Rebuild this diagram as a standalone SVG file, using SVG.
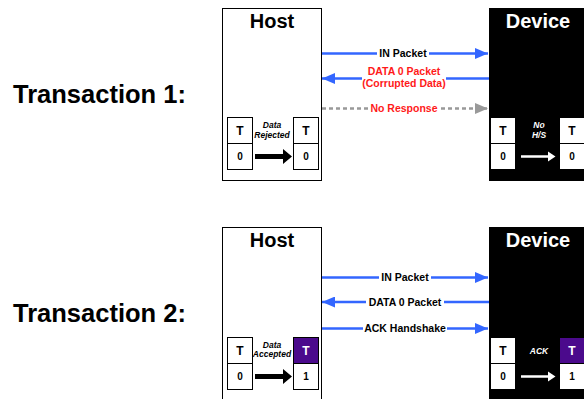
<svg xmlns="http://www.w3.org/2000/svg" width="584" height="399" viewBox="0 0 584 399">
<style>
text{font-family:"Liberation Sans",Arial,sans-serif;font-weight:bold}
.title{font-size:20px;text-anchor:middle}
.trans{font-size:25.5px}
.lbl{font-size:10.5px;text-anchor:middle}
.red{fill:#ff1a1a}
.tl{font-size:12px;text-anchor:middle}
.zl{font-size:10px;text-anchor:middle}
.it{font-size:8.5px;font-style:italic;text-anchor:middle}
.box{fill:#fff;stroke:#000;stroke-width:1}
.pbox{fill:#4b0a8c;stroke:#000;stroke-width:1}
.blue{stroke:#3366ff;stroke-width:2.5;fill:none}
.gray{stroke:#999;stroke-width:2.5;fill:none;stroke-dasharray:4 3}
.bg{fill:#fff}
</style>
<defs>
<marker id="ab" markerUnits="userSpaceOnUse" markerWidth="13" markerHeight="11" refX="13" refY="5.5" orient="auto"><path d="M0,0 L13,5.5 L0,11 z" fill="#3366ff"/></marker>
<marker id="ag" markerUnits="userSpaceOnUse" markerWidth="13" markerHeight="11" refX="13" refY="5.5" orient="auto"><path d="M0,0 L13,5.5 L0,11 z" fill="#999"/></marker>
</defs>

<text class="trans" x="13" y="103">Transaction 1:</text>
<text class="trans" x="13" y="322">Transaction 2:</text>

<!-- Transaction 1 -->
<g id="host1">
<rect x="222.5" y="8.5" width="99" height="172" fill="#fff" stroke="#000"/>
<text class="title" x="272" y="28">Host</text>
<rect class="box" x="227.5" y="117.5" width="25" height="26"/>
<rect class="box" x="227.5" y="143.5" width="25" height="26"/>
<text class="tl" x="240" y="135">T</text>
<text class="zl" x="240" y="160">0</text>
<rect class="box" x="293.5" y="117.5" width="25" height="26"/>
<rect class="box" x="293.5" y="143.5" width="25" height="26"/>
<text class="tl" x="306" y="135">T</text>
<text class="zl" x="306" y="160">0</text>
<text class="it" x="272" y="128">Data</text>
<text class="it" x="272" y="138">Rejected</text>
<polygon points="255,154 283,154 283,149 292,156.5 283,164 283,159 255,159" fill="#000"/>
</g>
<g id="device1">
<rect x="489" y="8" width="100" height="173" fill="#000"/>
<text class="title" x="538" y="28" fill="#fff">Device</text>
<rect class="box" x="490.5" y="117.5" width="25" height="26"/>
<rect class="box" x="490.5" y="143.5" width="25" height="26"/>
<text class="tl" x="503" y="135">T</text>
<text class="zl" x="503" y="160">0</text>
<rect class="box" x="559.5" y="117.5" width="25" height="26"/>
<rect class="box" x="559.5" y="143.5" width="25" height="26"/>
<text class="tl" x="572" y="135">T</text>
<text class="zl" x="572" y="160">0</text>
<text class="it" x="539" y="128" fill="#fff">No</text>
<text class="it" x="539" y="138" fill="#fff">H/S</text>
<polygon points="521,155.2 548,155.2 548,151.5 555.5,156.5 548,161.5 548,157.8 521,157.8" fill="#fff"/>
</g>

<!-- Transaction 2 -->
<g id="host2">
<rect x="222.5" y="227.5" width="99" height="180" fill="#fff" stroke="#000"/>
<text class="title" x="272" y="247">Host</text>
<rect class="box" x="227.5" y="337.5" width="25" height="26"/>
<rect class="box" x="227.5" y="363.5" width="25" height="26"/>
<text class="tl" x="240" y="355">T</text>
<text class="zl" x="240" y="380">0</text>
<rect class="pbox" x="293.5" y="337.5" width="25" height="26"/>
<rect class="box" x="293.5" y="363.5" width="25" height="26"/>
<text class="tl" x="306" y="355" fill="#fff">T</text>
<text class="zl" x="306" y="380">1</text>
<text class="it" x="272" y="348">Data</text>
<text class="it" x="272" y="357">Accepted</text>
<polygon points="255,374 283,374 283,369 292,376.5 283,384 283,379 255,379" fill="#000"/>
</g>
<g id="device2">
<rect x="489" y="227" width="100" height="180" fill="#000"/>
<text class="title" x="538" y="247" fill="#fff">Device</text>
<rect class="box" x="490.5" y="337.5" width="25" height="26"/>
<rect class="box" x="490.5" y="363.5" width="25" height="26"/>
<text class="tl" x="503" y="355">T</text>
<text class="zl" x="503" y="380">0</text>
<rect class="pbox" x="559.5" y="337.5" width="25" height="26"/>
<rect class="box" x="559.5" y="363.5" width="25" height="26"/>
<text class="tl" x="572" y="355" fill="#fff">T</text>
<text class="zl" x="572" y="380">1</text>
<text class="it" x="539" y="354" fill="#fff">ACK</text>
<polygon points="521,375.2 548,375.2 548,371.5 555.5,376.5 548,381.5 548,377.8 521,377.8" fill="#fff"/>
</g>

<g id="connectors">
<line class="blue" x1="322" y1="53.5" x2="488" y2="53.5" marker-end="url(#ab)"/>
<rect class="bg" x="377" y="47" width="52" height="13"/>
<text class="lbl" x="403" y="57.3">IN Packet</text>

<line class="blue" x1="489" y1="78.5" x2="322" y2="78.5" marker-end="url(#ab)"/>
<rect class="bg" x="362" y="66" width="84" height="24"/>
<text class="lbl red" x="404" y="75">DATA 0 Packet</text>
<text class="lbl red" x="404" y="87">(Corrupted Data)</text>

<line class="gray" x1="322" y1="108.5" x2="488" y2="108.5" marker-end="url(#ag)"/>
<rect class="bg" x="369" y="102" width="70" height="13"/>
<text class="lbl red" x="404" y="112.3">No Response</text>

<line class="blue" x1="322" y1="277.5" x2="488" y2="277.5" marker-end="url(#ab)"/>
<rect class="bg" x="379" y="271" width="52" height="13"/>
<text class="lbl" x="405" y="281.3">IN Packet</text>

<line class="blue" x1="489" y1="302" x2="322" y2="302" marker-end="url(#ab)"/>
<rect class="bg" x="366" y="295.5" width="78" height="13"/>
<text class="lbl" x="405" y="305.8">DATA 0 Packet</text>

<line class="blue" x1="322" y1="328.5" x2="488" y2="328.5" marker-end="url(#ab)"/>
<rect class="bg" x="363" y="322" width="84" height="13"/>
<text class="lbl" x="405" y="332.3">ACK Handshake</text>
</g>
</svg>
